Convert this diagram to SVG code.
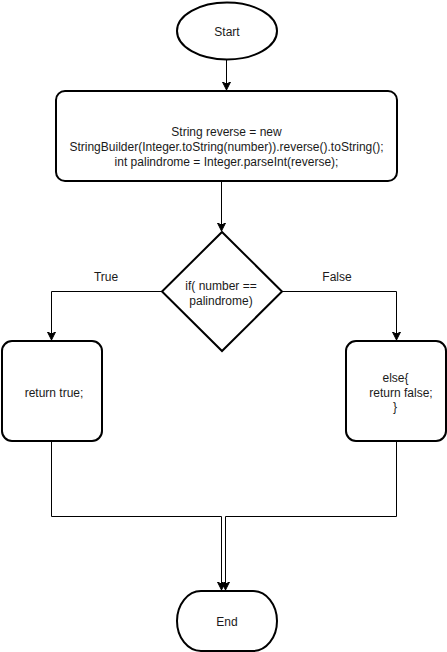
<svg xmlns="http://www.w3.org/2000/svg" width="447" height="652" viewBox="0 0 447 652">
  <style>
    .shape { fill: #ffffff; stroke: #000000; stroke-width: 2; }
    .conn { fill: none; stroke: #000000; stroke-width: 1; }
    .t { font-family: "Liberation Sans", Arial, Helvetica, sans-serif; font-size: 12px; fill: #1a1a1a; text-anchor: middle; }
  </style>
  <defs>
    <marker id="arrow" markerUnits="userSpaceOnUse" markerWidth="10" markerHeight="10" viewBox="0 0 10 10" refX="8" refY="4" orient="auto">
      <path d="M0,0 L8,4 L0,8 L2,4 Z" fill="#000000" stroke="#000000" stroke-width="1"/>
    </marker>
  </defs>
  <rect width="447" height="652" fill="#ffffff"/>

  <g id="connectors">
    <path class="conn" d="M226.5,60 V90" marker-end="url(#arrow)"/>
    <path class="conn" d="M221.5,182 V231" marker-end="url(#arrow)"/>
    <path class="conn" d="M162,291.5 H51.5 V340" marker-end="url(#arrow)"/>
    <path class="conn" d="M282,291.5 H396.5 V340" marker-end="url(#arrow)"/>
    <path class="conn" d="M51.5,442 V516.5 H221.5 V590" marker-end="url(#arrow)"/>
    <path class="conn" d="M396.5,442 V516.5 H225.5 V590" marker-end="url(#arrow)"/>
    <text class="t" x="106" y="281">True</text>
    <text class="t" x="337" y="280.5">False</text>
  </g>

  <g id="start">
    <ellipse class="shape" cx="227" cy="31" rx="50" ry="28.5"/>
    <text class="t" x="227" y="36">Start</text>
  </g>

  <g id="process">
    <rect class="shape" x="56" y="91" width="341" height="90" rx="9" ry="9"/>
    <text class="t" x="226.5" y="136">String reverse = new</text>
    <text class="t" x="226.5" y="151">StringBuilder(Integer.toString(number)).reverse().toString();</text>
    <text class="t" x="226.5" y="166">int palindrome = Integer.parseInt(reverse);</text>
  </g>

  <g id="decision">
    <polygon class="shape" points="222,232 282,291.5 222,351 162,291.5"/>
    <text class="t" x="221" y="289.5">if( number ==</text>
    <text class="t" x="221" y="304.5">palindrome)</text>
  </g>

  <g id="return-true">
    <rect class="shape" x="2" y="341" width="100" height="100" rx="10" ry="10"/>
    <text class="t" x="54" y="397">return true;</text>
  </g>

  <g id="return-false">
    <rect class="shape" x="346" y="341" width="100" height="100" rx="10" ry="10"/>
    <text class="t" x="395.5" y="382">else{</text>
    <text class="t" x="401" y="396.5">return false;</text>
    <text class="t" x="395" y="411">}</text>
  </g>

  <g id="end">
    <rect class="shape" x="177" y="591" width="100" height="60" rx="24" ry="30"/>
    <text class="t" x="227" y="626">End</text>
  </g>
</svg>
